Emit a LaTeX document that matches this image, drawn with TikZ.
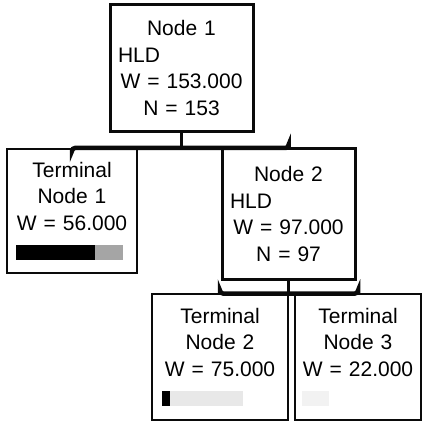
\documentclass[tikz,border=0pt]{standalone}
\usepackage{fontspec}
\setmainfont{Liberation Sans}
\usepackage{xcolor}
\usetikzlibrary{calc}
\definecolor{figline}{RGB}{10,10,10}
\definecolor{figshade}{RGB}{165,165,165}
\definecolor{figfaint}{RGB}{232,232,232}
\definecolor{figpale}{RGB}{242,242,242}
\newcommand{\lefttxt}[1]{\makebox[\hsize][l]{#1}}
\newcommand{\classbar}[3]{\makebox[\hsize][l]{\rule[-3pt]{#1pt}{15pt}{\color{#3}\rule[-3pt]{#2pt}{15pt}}}}
\tikzset{
  box/.style  ={draw=figline, rectangle, align=center, inner xsep=0pt, inner ysep=0pt,
                font=\fontsize{21}{26.5}\selectfont},
  nd/.style   ={box, line width=3pt},
  term/.style ={box, line width=1.2pt},
  stem/.style ={draw=figline, line width=3pt},
  bar/.style  ={draw=figline, line width=4.5pt, rounded corners=3pt},
}
\begin{document}
\begin{tikzpicture}[x=1pt,y=1pt]
  \useasboundingbox (0,0) rectangle (423,-422);
  % split nodes
  \node[nd,minimum width=143,minimum height=127,text width=127] (n1) at (181.5,-68)
    {Node 1\\\lefttxt{HLD}\\W = 153.000\\N = 153};
  \node[nd,minimum width=133,minimum height=130,text width=117] (n2) at (288.5,-214)
    {Node 2\\\lefttxt{HLD}\\W = 97.000\\N = 97};
  % terminal nodes
  \node[term,minimum width=130,minimum height=124,text width=112] (t1) at (72,-211)
    {Terminal\\Node 1\\W = 56.000\\\classbar{79}{28}{figshade}};
  \node[term,minimum width=136,minimum height=126,text width=116] (t2) at (220,-357)
    {Terminal\\Node 2\\W = 75.000\\\classbar{8}{73}{figfaint}};
  \node[term,minimum width=126,minimum height=126,text width=112] (t3) at (358,-357)
    {Terminal\\Node 3\\W = 22.000\\\classbar{0}{27}{figpale}};
  % branches
  \draw[stem] (n1.south) -- ++(0,-15) coordinate (j1);
  \draw[bar] (t1.north) -- (t1.north |- j1) -- (n2.north |- j1) -- (n2.north);
  \draw[stem] (n2.south) -- ++(0,-13) coordinate (j2);
  \draw[bar] (t2.north) -- (t2.north |- j2) -- (t3.north |- j2) -- (t3.north);
\end{tikzpicture}
\end{document}
